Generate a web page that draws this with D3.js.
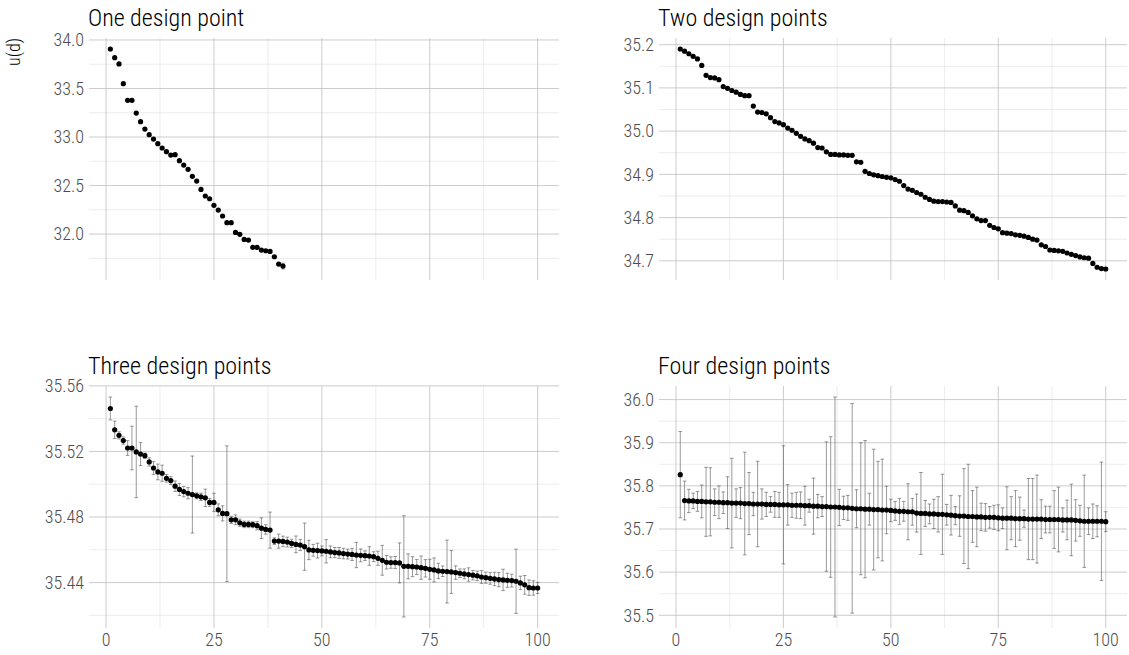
<!DOCTYPE html>
<html>
<head>
<meta charset="utf-8">
<script src="https://cdn.jsdelivr.net/npm/d3@7"></script>
<style>
  body { margin: 0; background: #fff; }
  svg { display: block; font-family: "Roboto Condensed", "Liberation Sans Narrow", sans-serif; font-weight: 300; }
  .title { font-size: 24px; fill: #000; }
  .tick-label { font-size: 18px; fill: #4d4d4d; }
  .grid-major { stroke: #c6c6c6; stroke-width: 0.9; }
  .grid-minor { stroke: #e4e4e4; stroke-width: 0.7; }
  .errbar { stroke: #555; stroke-width: 0.7; fill: none; stroke-opacity: 0.85; }
  .pt { fill: #000; }
</style>
</head>
<body>
<div id="render-here"></div>
<script>
// ---- data ----
const panelTitles = ['One design point', 'Two design points', 'Three design points', 'Four design points'];

const onePointU = [33.907, 33.818, 33.753, 33.550, 33.378, 33.378, 33.247, 33.158, 33.082, 33.024,
  32.979, 32.931, 32.887, 32.849, 32.814, 32.818, 32.756, 32.711, 32.667, 32.595,
  32.546, 32.460, 32.392, 32.364, 32.296, 32.247, 32.186, 32.117, 32.117, 32.017,
  31.997, 31.945, 31.938, 31.863, 31.863, 31.835, 31.828, 31.821, 31.766, 31.691,
  31.670];
const onePointSe = [0, 0, 0, 0, 0, 0, 0, 0, 0, 0,
  0, 0, 0, 0, 0, 0, 0, 0, 0, 0,
  0, 0, 0, 0, 0, 0, 0, 0, 0, 0,
  0, 0, 0, 0, 0, 0, 0, 0, 0, 0.008,
  0.03];

const twoPointsU = [35.190, 35.185, 35.179, 35.173, 35.167, 35.152, 35.129, 35.124, 35.123, 35.119,
  35.103, 35.099, 35.094, 35.090, 35.085, 35.082, 35.082, 35.058, 35.044, 35.043,
  35.040, 35.031, 35.022, 35.019, 35.015, 35.007, 35.002, 34.995, 34.988, 34.982,
  34.978, 34.972, 34.962, 34.961, 34.952, 34.946, 34.946, 34.945, 34.945, 34.944,
  34.944, 34.929, 34.928, 34.907, 34.902, 34.899, 34.897, 34.895, 34.893, 34.892,
  34.888, 34.884, 34.874, 34.866, 34.863, 34.858, 34.854, 34.847, 34.842, 34.838,
  34.837, 34.837, 34.836, 34.835, 34.827, 34.817, 34.816, 34.812, 34.804, 34.797,
  34.793, 34.793, 34.782, 34.777, 34.774, 34.765, 34.764, 34.763, 34.760, 34.759,
  34.757, 34.754, 34.750, 34.748, 34.737, 34.733, 34.725, 34.724, 34.723, 34.722,
  34.718, 34.715, 34.712, 34.709, 34.707, 34.706, 34.694, 34.685, 34.682, 34.681];

const threePointsU = [35.5462, 35.5332, 35.5298, 35.5266, 35.5221, 35.5221, 35.5197, 35.5184, 35.5174, 35.5136,
  35.5099, 35.5075, 35.5067, 35.5036, 35.5022, 35.4988, 35.4968, 35.4955, 35.4945, 35.4937,
  35.4929, 35.4923, 35.4917, 35.4889, 35.4889, 35.4844, 35.4822, 35.4820, 35.4783, 35.4783,
  35.4765, 35.4755, 35.4755, 35.4753, 35.4747, 35.4732, 35.4724, 35.4720, 35.4653, 35.4653,
  35.4651, 35.4647, 35.4639, 35.4633, 35.4629, 35.4619, 35.4599, 35.4597, 35.4595, 35.4593,
  35.4591, 35.4587, 35.4583, 35.4581, 35.4577, 35.4574, 35.4572, 35.4568, 35.4566, 35.4564,
  35.4562, 35.4558, 35.4548, 35.4536, 35.4524, 35.4522, 35.4522, 35.4520, 35.4499, 35.4499,
  35.4497, 35.4495, 35.4491, 35.4487, 35.4481, 35.4477, 35.4471, 35.4469, 35.4467, 35.4465,
  35.4461, 35.4457, 35.4453, 35.4449, 35.4445, 35.4441, 35.4434, 35.4430, 35.4426, 35.4422,
  35.4418, 35.4416, 35.4414, 35.4412, 35.4408, 35.4398, 35.4386, 35.4369, 35.4367, 35.4367];
const threePointsSe = [0.0070, 0.0053, 0.0022, 0.0022, 0.0045, 0.0133, 0.0279, 0.0070, 0.0016, 0.0025,
  0.0039, 0.0048, 0.0049, 0.0023, 0.0024, 0.0032, 0.0037, 0.0032, 0.0034, 0.0235,
  0.0018, 0.0022, 0.0053, 0.0024, 0.0056, 0.0036, 0.0046, 0.0414, 0.0022, 0.0030,
  0.0022, 0.0020, 0.0020, 0.0018, 0.0025, 0.0063, 0.0029, 0.0110, 0.0020, 0.0043,
  0.0032, 0.0030, 0.0025, 0.0051, 0.0034, 0.0144, 0.0059, 0.0036, 0.0045, 0.0030,
  0.0071, 0.0036, 0.0031, 0.0033, 0.0032, 0.0030, 0.0037, 0.0077, 0.0039, 0.0029,
  0.0057, 0.0030, 0.0043, 0.0091, 0.0041, 0.0035, 0.0037, 0.0122, 0.0309, 0.0076,
  0.0061, 0.0046, 0.0071, 0.0053, 0.0061, 0.0073, 0.0047, 0.0032, 0.0192, 0.0131,
  0.0041, 0.0026, 0.0030, 0.0041, 0.0029, 0.0029, 0.0039, 0.0034, 0.0036, 0.0041,
  0.0043, 0.0065, 0.0043, 0.0039, 0.0196, 0.0041, 0.0057, 0.0047, 0.0044, 0.0034];

const fourPointsU = [35.826, 35.766, 35.765, 35.765, 35.764, 35.764, 35.763, 35.763, 35.762, 35.762,
  35.761, 35.761, 35.760, 35.760, 35.760, 35.759, 35.759, 35.758, 35.758, 35.758,
  35.757, 35.757, 35.757, 35.756, 35.756, 35.756, 35.755, 35.755, 35.755, 35.754,
  35.754, 35.753, 35.753, 35.752, 35.752, 35.751, 35.751, 35.750, 35.749, 35.749,
  35.748, 35.747, 35.747, 35.746, 35.746, 35.745, 35.745, 35.744, 35.744, 35.743,
  35.742, 35.741, 35.741, 35.740, 35.740, 35.737, 35.736, 35.736, 35.735, 35.735,
  35.734, 35.734, 35.733, 35.732, 35.731, 35.730, 35.730, 35.729, 35.729, 35.728,
  35.728, 35.727, 35.727, 35.727, 35.726, 35.725, 35.725, 35.725, 35.724, 35.724,
  35.724, 35.723, 35.723, 35.723, 35.723, 35.722, 35.722, 35.722, 35.722, 35.721,
  35.721, 35.721, 35.720, 35.719, 35.718, 35.718, 35.718, 35.718, 35.718, 35.717];
const fourPointsSe = [0.100, 0.045, 0.027, 0.018, 0.023, 0.038, 0.080, 0.079, 0.031, 0.038,
  0.025, 0.060, 0.104, 0.033, 0.036, 0.119, 0.072, 0.027, 0.099, 0.035,
  0.028, 0.018, 0.030, 0.029, 0.137, 0.047, 0.028, 0.030, 0.031, 0.045,
  0.015, 0.065, 0.027, 0.023, 0.150, 0.163, 0.255, 0.042, 0.027, 0.029,
  0.243, 0.044, 0.153, 0.159, 0.037, 0.140, 0.112, 0.118, 0.055, 0.026,
  0.022, 0.030, 0.023, 0.065, 0.031, 0.044, 0.095, 0.030, 0.023, 0.034,
  0.041, 0.093, 0.024, 0.046, 0.021, 0.047, 0.110, 0.121, 0.060, 0.069,
  0.032, 0.032, 0.025, 0.028, 0.030, 0.024, 0.073, 0.050, 0.065, 0.050,
  0.020, 0.094, 0.094, 0.102, 0.045, 0.031, 0.031, 0.067, 0.075, 0.028,
  0.046, 0.083, 0.048, 0.036, 0.107, 0.031, 0.040, 0.036, 0.137, 0.023];

const xTicks = [0, 25, 50, 75, 100];
const xMinorTicks = [12.5, 37.5, 62.5, 87.5];
const oneTicks = [32.0, 32.5, 33.0, 33.5, 34.0];
const twoTicks = [34.7, 34.8, 34.9, 35.0, 35.1, 35.2];
const threeTicks = [35.44, 35.48, 35.52, 35.56];
const fourTicks = [35.5, 35.6, 35.7, 35.8, 35.9, 36.0];
const yLabel = 'u(d)';

// ---- layout ----
const svgWidth = 1129;
const svgHeight = 655;
const colLeft = [89, 659];
const colWidth = [470, 468];
const rowTop = [38, 386];
const panelHeight = 242;

const panels = [
  {title: panelTitles[0], u: onePointU, se: onePointSe, ticks: oneTicks, fmt: '.1f', col: 0, row: 0},
  {title: panelTitles[1], u: twoPointsU, se: null, ticks: twoTicks, fmt: '.1f', col: 1, row: 0},
  {title: panelTitles[2], u: threePointsU, se: threePointsSe, ticks: threeTicks, fmt: '.2f', col: 0, row: 1},
  {title: panelTitles[3], u: fourPointsU, se: fourPointsSe, ticks: fourTicks, fmt: '.1f', col: 1, row: 1}
];

// ggplot-like 5% expansion of a continuous range
function expand([lo, hi]){
    const pad = (hi - lo) * 0.05;
    return [lo - pad, hi + pad];
}
function minorBreaks(ticks, domain){
    const step = ticks[1] - ticks[0];
    const out = [];
    for (let i = -1; i < ticks.length; i++){
        const m = ticks[0] + step * (i + 0.5);
        if (m > domain[0] && m < domain[1]) out.push(m);
    }
    return out;
}

const svg = d3.select('#render-here')
    .append('svg')
    .attr('width', svgWidth)
    .attr('height', svgHeight)
    .attr('viewBox', `0 0 ${svgWidth} ${svgHeight}`);

const xScale = d3.scaleLinear()
    .domain(expand([1, 100]));

panels.forEach(p => {
    const rows = p.u.map((u, i) => ({x: i + 1, u: u, se: p.se ? p.se[i] : 0}));
    const lo = d3.min(rows, d => d.u - d.se);
    const hi = d3.max(rows, d => d.u + d.se);

    const x = xScale.copy().range([0, colWidth[p.col]]);
    const y = d3.scaleLinear().domain(expand([lo, hi])).range([panelHeight, 0]);

    const g = svg.append('g')
        .attr('transform', `translate(${colLeft[p.col]},${rowTop[p.row]})`);

    // minor grid first, then major
    g.append('g').selectAll('line.ymin')
        .data(minorBreaks(p.ticks, y.domain()))
        .enter().append('line')
            .attr('class', 'grid-minor')
            .attr('x1', 0).attr('x2', colWidth[p.col])
            .attr('y1', d => y(d)).attr('y2', d => y(d));
    g.append('g').selectAll('line.xmin')
        .data(xMinorTicks)
        .enter().append('line')
            .attr('class', 'grid-minor')
            .attr('x1', d => x(d)).attr('x2', d => x(d))
            .attr('y1', 0).attr('y2', panelHeight);
    g.append('g').selectAll('line')
        .data(p.ticks)
        .enter().append('line')
            .attr('class', 'grid-major')
            .attr('x1', 0).attr('x2', colWidth[p.col])
            .attr('y1', d => y(d)).attr('y2', d => y(d));
    g.append('g').selectAll('line')
        .data(xTicks)
        .enter().append('line')
            .attr('class', 'grid-major')
            .attr('x1', d => x(d)).attr('x2', d => x(d))
            .attr('y1', 0).attr('y2', panelHeight);

    // y tick labels
    g.append('g').selectAll('text')
        .data(p.ticks)
        .enter().append('text')
            .attr('class', 'tick-label')
            .attr('x', -5)
            .attr('y', d => y(d))
            .attr('dy', '0.35em')
            .attr('text-anchor', 'end')
            .text(d => d3.format(p.fmt)(d));

    // x tick labels only on bottom row
    if (p.row === 1){
        g.append('g').selectAll('text')
            .data(xTicks)
            .enter().append('text')
                .attr('class', 'tick-label')
                .attr('x', d => x(d))
                .attr('y', panelHeight + 18)
                .attr('text-anchor', 'middle')
                .text(d => d);
    }

    // error bars
    if (p.se){
        const cap = 1.8;
        g.append('g').selectAll('path')
            .data(rows.filter(d => d.se > 0))
            .enter().append('path')
                .attr('class', 'errbar')
                .attr('d', d => {
                    const cx = x(d.x), t = y(d.u + d.se), b = y(d.u - d.se);
                    return `M${cx - cap},${t}H${cx + cap}M${cx},${t}V${b}M${cx - cap},${b}H${cx + cap}`;
                });
    }

    g.append('g').selectAll('circle')
        .data(rows)
        .enter().append('circle')
            .attr('class', 'pt')
            .attr('cx', d => x(d.x))
            .attr('cy', d => y(d.u))
            .attr('r', 2.6);

    g.append('text')
        .attr('class', 'title')
        .attr('x', -1)
        .attr('y', -12)
        .text(p.title);
});

svg.append('text')
    .attr('class', 'tick-label')
    .attr('transform', 'translate(20,52) rotate(-90)')
    .attr('text-anchor', 'middle')
    .style('fill', '#000')
    .text(yLabel);
</script>
</body>
</html>
